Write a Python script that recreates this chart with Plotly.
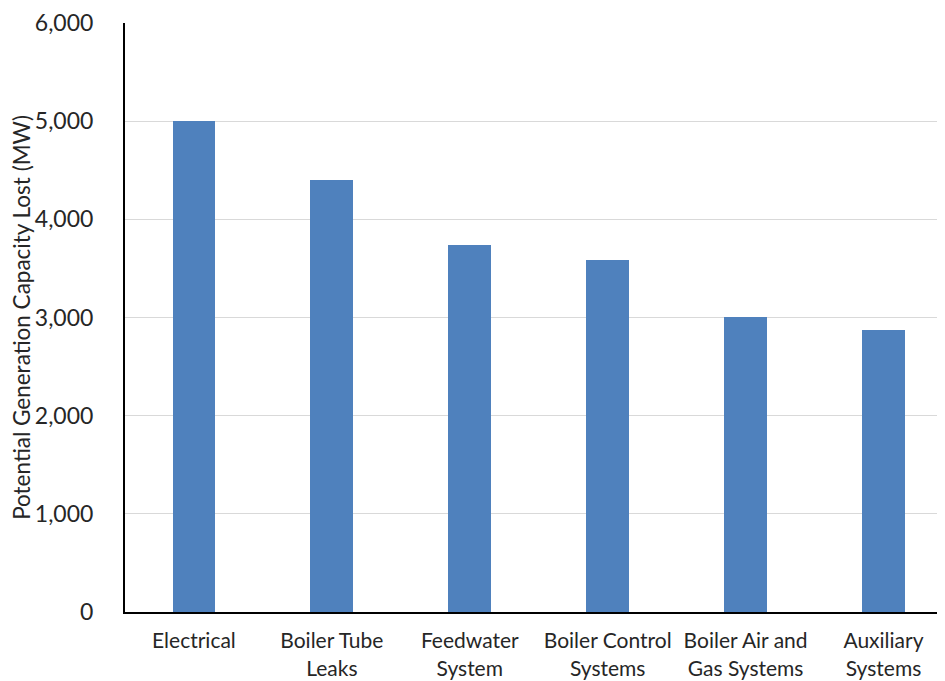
import plotly.graph_objects as go

categories = ["Electrical", "Boiler Tube<br>Leaks", "Feedwater<br>System",
              "Boiler Control<br>Systems", "Boiler Air and<br>Gas Systems", "Auxiliary<br>Systems"]
values = [5000, 4405, 3735, 3590, 3005, 2870]
y_ticks = [0, 1000, 2000, 3000, 4000, 5000, 6000]
y_tick_labels = ["0", "1,000", "2,000", "3,000", "4,000", "5,000", "6,000"]

font_family = "Lato, 'Open Sans', sans-serif"

fig = go.Figure(go.Bar(
    x=categories, y=values, width=0.31,
    marker=dict(color="#4F81BD", line=dict(width=0)),
))

# page body has an 8px default margin, so the figure is sized/offset to compensate
fig.update_layout(
    width=937, height=673,
    margin=dict(l=117, r=0, t=15, b=69),
    paper_bgcolor="white", plot_bgcolor="white",
    showlegend=False,
    font=dict(family=font_family, color="#262626"),
    bargap=0,
)
fig.update_xaxes(
    range=[-0.5, 5.446],
    automargin=False,
    showline=True, linecolor="black", linewidth=2,
    showgrid=False, ticks="",
    tickfont=dict(size=21, color="#262626"),
    ticklabelstandoff=9,
)
fig.update_yaxes(
    range=[0, 6000],
    automargin=False,
    tickvals=y_ticks, ticktext=y_tick_labels,
    showline=True, linecolor="black", linewidth=2,
    showgrid=True, gridcolor="#d9d9d9", gridwidth=1,
    zeroline=False, ticks="",
    tickfont=dict(size=23, color="#262626"),
    ticklabelstandoff=25,
    title=dict(text="Potential Generation Capacity Lost (MW)", font=dict(size=22.5, color="#262626"), standoff=9),
)

fig.write_html("out.html")
